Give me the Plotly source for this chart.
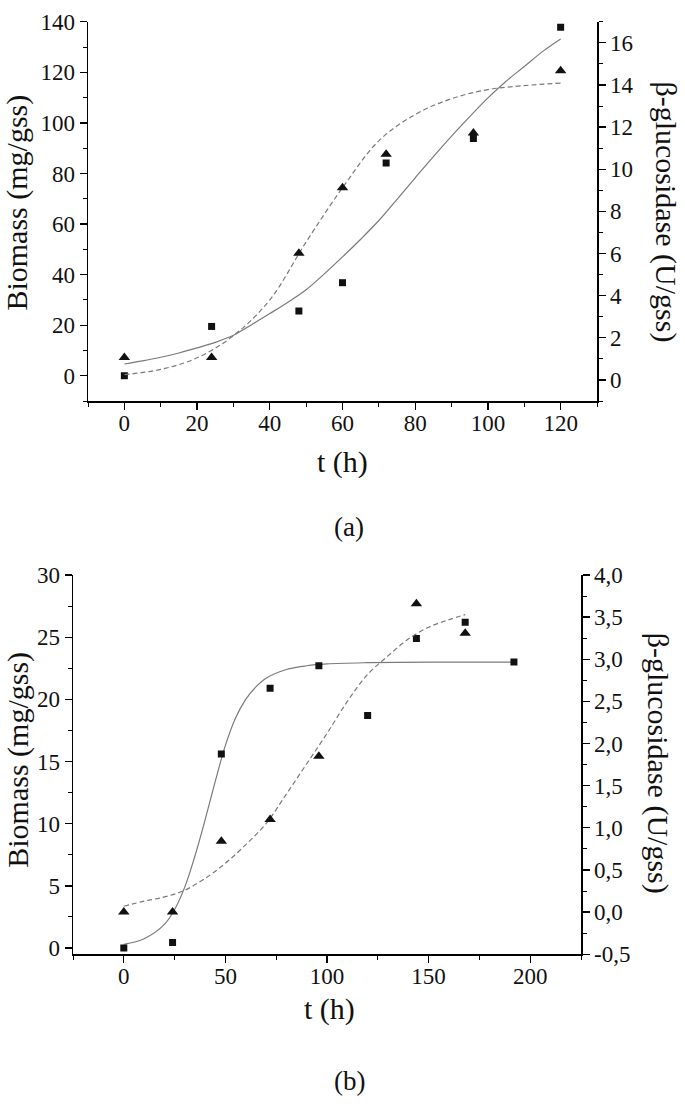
import plotly.graph_objects as go

# ---------------- Panel (a) data ----------------
a_t = [0, 24, 48, 60, 72, 96, 120]
a_biomass = [0, 19.5, 25.6, 36.8, 84.1, 93.8, 137.8]          # squares, left axis
a_enzyme = [1.06, 1.06, 6.01, 9.12, 10.71, 11.72, 14.67]      # triangles, right axis

a_fit_t = [0, 5, 10, 15, 20, 25, 30, 35, 40, 45, 50, 55, 60, 65, 70, 75, 80, 85, 90, 95,
           100, 105, 110, 115, 120]
a_biomass_fit = [4.65, 5.9, 7.3, 9.0, 11.0, 13.2, 16.0, 20.2, 24.6, 29.1, 34.0, 40.3, 47.0,
                 54.0, 61.4, 69.8, 78.3, 86.7, 94.8, 102.5, 109.9, 116.5, 122.3, 128.2, 133.2]
a_enz_fit_t = [0, 10, 20, 30, 40, 50, 60, 70, 80, 90, 100, 110, 120]
a_enzyme_fit = [0.25, 0.5, 1.05, 2.1, 3.8, 6.55, 9.12, 11.35, 12.6, 13.35, 13.78, 13.97, 14.09]

# ---------------- Panel (b) data ----------------
b_t_bio = [0, 24, 48, 72, 96, 120, 144, 168, 192]
b_biomass = [0, 0.44, 15.6, 20.9, 22.7, 18.7, 24.9, 26.2, 23.0]
b_t_enz = [0, 24, 48, 72, 96, 144, 168]
b_enzyme = [0.0, 0.0, 0.84, 1.10, 1.85, 3.66, 3.31]

b_bio_fit_t = [0, 10, 20, 25, 30, 35, 40, 45, 50, 55, 60, 65, 70, 80, 90, 100, 120, 150, 192]
b_biomass_fit = [0.3, 0.75, 1.9, 3.1, 4.9, 7.4, 10.3, 13.4, 16.3, 18.5, 20.0, 21.0, 21.7,
                 22.4, 22.7, 22.85, 22.95, 23.0, 23.0]
b_enz_fit_t = [0, 10, 20, 30, 40, 50, 60, 70, 80, 90, 100, 110, 120, 130, 140, 150, 160, 168]
b_enzyme_fit = [0.07, 0.13, 0.18, 0.26, 0.40, 0.58, 0.80, 1.05, 1.40, 1.76, 2.12, 2.5, 2.82,
                3.04, 3.24, 3.38, 3.47, 3.53]

b_right_tickvals = [-0.5, 0.0, 0.5, 1.0, 1.5, 2.0, 2.5, 3.0, 3.5, 4.0]
b_right_ticktext = ["-0,5", "0,0", "0,5", "1,0", "1,5", "2,0", "2,5", "3,0", "3,5", "4,0"]

# ---------------- Styling ----------------
W, H = 685, 1108
FONT = "Liberation Serif"
LINE_COL = "#7a7a7a"
MARK_COL = "#111111"
TICKFONT = dict(family=FONT, size=23, color="#111111")


def px_x(p):
    return p / W


def px_y(p):
    return 1 - p / H


fig = go.Figure()

# Panel (a)
fig.add_trace(go.Scatter(x=a_fit_t, y=a_biomass_fit, mode="lines", xaxis="x", yaxis="y",
                         line=dict(color=LINE_COL, width=1.2, shape="spline"), showlegend=False))
fig.add_trace(go.Scatter(x=a_enz_fit_t, y=a_enzyme_fit, mode="lines", xaxis="x", yaxis="y2",
                         line=dict(color=LINE_COL, width=1.2, shape="spline", dash="5px,3px"),
                         showlegend=False))
fig.add_trace(go.Scatter(x=a_t, y=a_biomass, mode="markers", xaxis="x", yaxis="y",
                         marker=dict(symbol="square", size=7, color=MARK_COL), showlegend=False))
fig.add_trace(go.Scatter(x=a_t, y=a_enzyme, mode="markers", xaxis="x", yaxis="y2",
                         marker=dict(symbol="triangle-up", size=10, color=MARK_COL), showlegend=False))

# Panel (b)
fig.add_trace(go.Scatter(x=b_bio_fit_t, y=b_biomass_fit, mode="lines", xaxis="x2", yaxis="y3",
                         line=dict(color=LINE_COL, width=1.2, shape="spline"), showlegend=False))
fig.add_trace(go.Scatter(x=b_enz_fit_t, y=b_enzyme_fit, mode="lines", xaxis="x2", yaxis="y4",
                         line=dict(color=LINE_COL, width=1.2, shape="spline", dash="5px,3px"),
                         showlegend=False))
fig.add_trace(go.Scatter(x=b_t_bio, y=b_biomass, mode="markers", xaxis="x2", yaxis="y3",
                         marker=dict(symbol="square", size=7, color=MARK_COL), showlegend=False))
fig.add_trace(go.Scatter(x=b_t_enz, y=b_enzyme, mode="markers", xaxis="x2", yaxis="y4",
                         marker=dict(symbol="triangle-up", size=10, color=MARK_COL), showlegend=False))

axis_common = dict(showline=True, linecolor="black", linewidth=1.5, ticks="outside",
                   ticklen=7, tickwidth=1.3, tickcolor="black", showgrid=False, zeroline=False,
                   tickfont=TICKFONT)


def minor(d):
    return dict(ticks="outside", ticklen=4, tickwidth=1, tickcolor="black", dtick=d, tick0=0,
                showgrid=False)


fig.update_layout(
    width=W, height=H,
    margin=dict(l=0, r=0, t=0, b=0),
    paper_bgcolor="white", plot_bgcolor="white",
    font=dict(family=FONT, color="#111111"),
    hovermode=False,
    xaxis=dict(domain=[px_x(88), px_x(597)], anchor="y", range=[-10, 130], dtick=20, tick0=0,
               minor=minor(10), ticklabelstandoff=-6, **axis_common),
    yaxis=dict(domain=[px_y(398), px_y(10)], anchor="x", range=[-10, 140], dtick=20, tick0=0,
               minor=minor(10), **axis_common),
    yaxis2=dict(anchor="x", overlaying="y", side="right", range=[-1, 17], dtick=2, tick0=0,
                minor=minor(1), **axis_common),
    xaxis2=dict(domain=[px_x(73), px_x(581)], anchor="y3", range=[-25, 225], dtick=50, tick0=0,
                minor=minor(25), ticklabelstandoff=-6, **axis_common),
    yaxis3=dict(domain=[px_y(964), px_y(576)], anchor="x2", range=[-0.5, 30], dtick=5, tick0=0,
                minor=minor(2.5), **axis_common),
    yaxis4=dict(anchor="x2", overlaying="y3", side="right", range=[-0.5, 4.0],
                tickmode="array", tickvals=b_right_tickvals, ticktext=b_right_ticktext,
                minor=dict(ticks="outside", ticklen=4, tickwidth=1, tickcolor="black",
                           dtick=0.25, tick0=0, showgrid=False),
                **axis_common),
)


def label(text, x, y, angle=0, size=30):
    fig.add_annotation(text=text, x=px_x(x), y=px_y(y), xref="paper", yref="paper",
                       xanchor="center", yanchor="middle", showarrow=False, textangle=angle,
                       font=dict(family=FONT, size=size, color="#111111"))


# Panel (a) titles
label("Biomass (mg/gss)", 17, 195, -90)
label("β-glucosidase (U/gss)", 666, 204, 90)
label("t (h)", 342, 460)
label("(a)", 349, 527, size=27)

# Panel (b) titles
label("Biomass (mg/gss)", 18, 765, -90)
label("β-glucosidase (U/gss)", 658, 768, 90)
label("t (h)", 329, 1020)
label("(b)", 349, 1094, size=27)

# remove the page's default body margin so the figure fills the window exactly
fig.write_html("out.html", config={"displayModeBar": False, "staticPlot": True},
               post_script="document.body.style.margin='0';document.body.style.overflow='hidden';")
